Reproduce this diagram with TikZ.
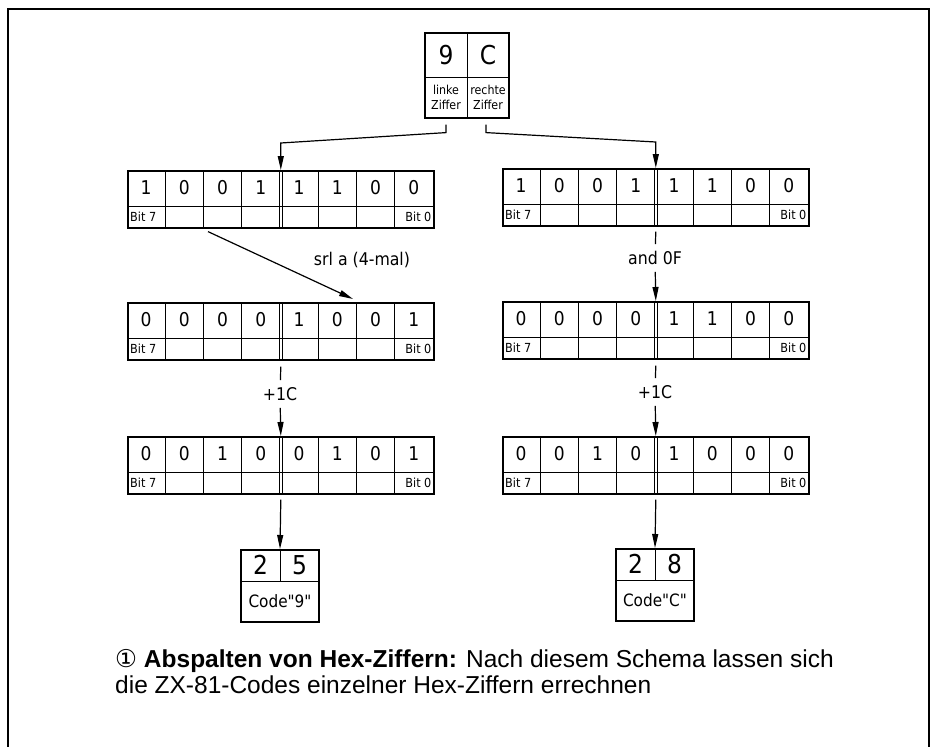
\documentclass[tikz,border=0pt]{standalone}
\usepackage{fontspec}
\setmainfont{Liberation Sans}
\newfontfamily\lettering{DejaVu Sans Condensed}
\newfontfamily\symfont{DejaVu Sans}
\usetikzlibrary{arrows.meta,calc,positioning}

\tikzset{
  box/.style={draw, line width=1.6pt, inner sep=0pt},
  reg/.style={box, minimum width=306pt, minimum height=57pt, anchor=north west},
  grid/.style={line width=0.9pt},
  conn/.style={line width=1.2pt},
  arr/.style={conn, -{Triangle[length=14pt,width=6pt]}},
  bitdigit/.style={font=\lettering\fontsize{19}{19}\selectfont, inner sep=0pt},
  bitlbl/.style={font=\lettering\fontsize{12.5}{12.5}\selectfont, inner sep=0pt},
  bigdigit/.style={font=\lettering\fontsize{26}{26}\selectfont, inner sep=0pt},
  smalltxt/.style={font=\lettering\fontsize{12.3}{15}\selectfont, align=center, inner sep=0pt},
  oplbl/.style={font=\lettering\fontsize{17.5}{17.5}\selectfont, inner xsep=2pt, inner ysep=7pt},
  captxt/.style={font=\fontsize{24.5}{26}\selectfont, anchor=base west, inner sep=0pt}
}

% register: name, x, y, bits 7..0
\newcommand{\bitreg}[4]{%
  \node[reg] (#1) at (#2,#3) {};
  \foreach \b [count=\i] in {#4}
    \node[bitdigit] at ($(#1.north west)+(\i*38.25-19.125,18)$) {\b};
  \foreach \i in {1,2,3,5,6,7}
    \draw[grid] ($(#1.north west)+(\i*38.25,0)$) -- ++(0,57);
  \draw[grid] ($(#1.north)+(-1.4,0)$) -- ++(0,57);
  \draw[grid] ($(#1.north)+(1.4,0)$) -- ++(0,57);
  \draw[grid] ($(#1.north west)+(0,36)$) -- ++(306,0);
  \node[bitlbl, anchor=west] at ($(#1.north west)+(3,46.5)$) {Bit 7};
  \node[bitlbl, anchor=east] at ($(#1.north east)+(-3,46.5)$) {Bit 0};
}

% result box: name, x, y, digit, digit, label
\newcommand{\resbox}[6]{%
  \node[box, minimum width=78pt, minimum height=72pt, anchor=north] (#1) at (#2,#3) {};
  \draw[grid] (#1.north) -- ++(0,32);
  \draw[grid] ($(#1.north west)+(0,32)$) -- ++(78,0);
  \node[bigdigit] at ($(#1.north)+(-19.5,16)$) {#4};
  \node[bigdigit] at ($(#1.north)+(19.5,16)$) {#5};
  \node[font=\lettering\fontsize{17}{17}\selectfont, inner sep=0pt] at ($(#1.north)+(0,52)$) {#6};
}

\begin{document}
\begin{tikzpicture}[x=1pt, y=-1pt]
  \useasboundingbox (0,0) rectangle (938,747);
  \draw[line width=1.3pt] (8,747) -- (8,9) -- (929,9) -- (929,747);

  % hex input
  \node[box, minimum width=84pt, minimum height=85pt, anchor=north] (hexin) at (467,32) {};
  \draw[grid] (hexin.north) -- (hexin.south);
  \draw[grid] ($(hexin.north west)+(0,45)$) -- ++(84,0);
  \node[bigdigit] (dig9) at ($(hexin.north)+(-21,23)$) {9};
  \node[bigdigit] (digC) at ($(hexin.north)+(21,23)$) {C};
  \node[smalltxt] (lnk) at ($(hexin.north)+(-21,65)$) {linke\\Ziffer};
  \node[smalltxt] (rch) at ($(hexin.north)+(21,65)$) {rechte\\Ziffer};

  \bitreg{L1}{127}{170}{1,0,0,1,1,1,0,0}
  \bitreg{R1}{502}{168}{1,0,0,1,1,1,0,0}
  \bitreg{L2}{127}{302}{0,0,0,0,1,0,0,1}
  \bitreg{R2}{502}{301}{0,0,0,0,1,1,0,0}
  \bitreg{L3}{127}{436}{0,0,1,0,0,1,0,1}
  \bitreg{R3}{502}{436}{0,0,1,0,1,0,0,0}

  \resbox{res9}{280}{549}{2}{5}{Code"9"}
  \resbox{resC}{655}{548}{2}{8}{Code"C"}

  % connectors
  \coordinate (hexL) at ($(hexin.south)+(-21,6)$);
  \coordinate (hexR) at ($(hexin.south)+(19,6)$);
  \draw[arr] (hexL) -- ++(0,8) -- ($(L1.north)+(0,-27)$) -- (L1.north);
  \draw[arr] (hexR) -- ++(0,8) -- ($(R1.north)+(0,-26)$) -- (R1.north);

  \coordinate (srlA) at ($(L1.south west)+(81,3)$);
  \coordinate (srlB) at ($(L2.north west)+(226,-3)$);
  \draw[arr] (srlA) -- (srlB);
  \node[oplbl] (srl) at (362,260) {srl a (4-mal)};

  \node[oplbl] (andof) at (655,258) {and 0F};
  \draw[conn] ($(R1.south)+(0,5)$) -- (andof);
  \draw[arr] (andof) -- (R2.north);

  \node[oplbl] (incL) at (280,394) {+1C};
  \draw[conn] ($(L2.south)+(0,6)$) -- (incL);
  \draw[arr] (incL) -- (L3.north);

  \node[oplbl] (incR) at (655,392) {+1C};
  \draw[conn] ($(R2.south)+(0,6)$) -- (incR);
  \draw[arr] (incR) -- (R3.north);

  \draw[arr] ($(L3.south)+(0,5)$) -- (res9.north);
  \draw[arr] ($(R3.south)+(0,5)$) -- (resC.north);

  \node[captxt] (cap1) at (115,667) {{\symfont ①} \textbf{Abspalten von Hex-Ziffern:} Nach diesem Schema lassen sich};
  \node[captxt] (cap2) at (115,693) {die ZX-81-Codes einzelner Hex-Ziffern errechnen};
\end{tikzpicture}
\end{document}
